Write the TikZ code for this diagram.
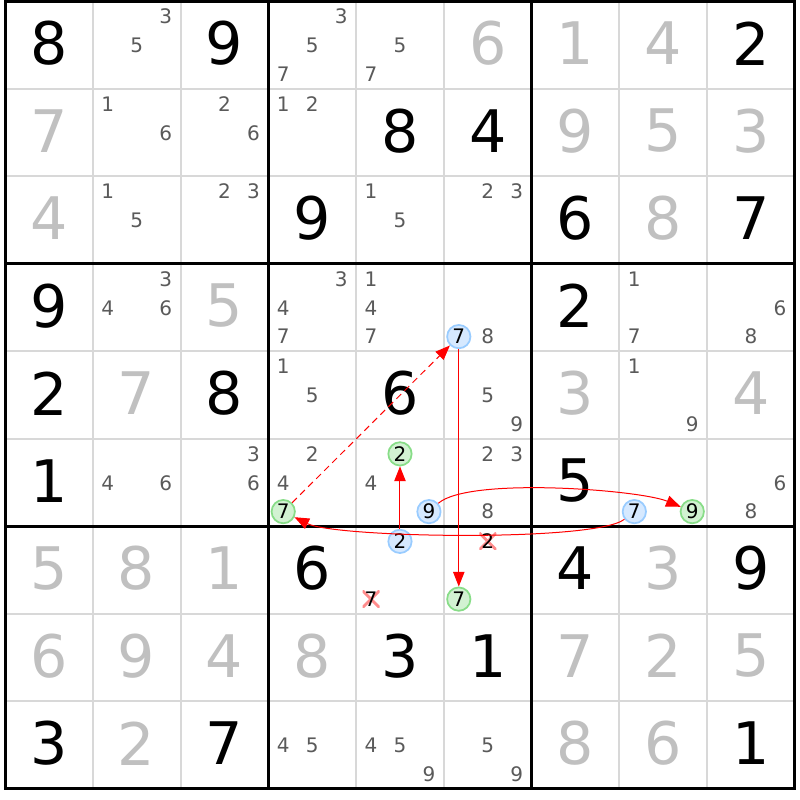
\documentclass[tikz,border=0pt]{standalone}
\usepackage{fontspec}
\setmainfont{DejaVu Sans}
\usetikzlibrary{arrows.meta}
\definecolor{solvedgray}{HTML}{C0C0C0}
\definecolor{pencilgray}{HTML}{5A5A5A}
\definecolor{thingray}{HTML}{D8D8D8}
\definecolor{blueline}{HTML}{99CCFF}
\definecolor{bluefill}{HTML}{D6E9FF}
\definecolor{greenline}{HTML}{88DD88}
\definecolor{greenfill}{HTML}{D2F2D2}
\tikzset{
  clue/.style={font=\fontsize{44}{44}\selectfont, inner sep=0pt},
  solved/.style={clue, text=solvedgray},
  pencil/.style={font=\fontsize{15}{16}\selectfont, text=pencilgray, inner sep=0pt},
  ring/.style={pencil, text=black, circle, minimum size=17.5pt, line width=1.3pt},
  bluecand/.style={ring, draw=blueline, fill=bluefill},
  greencand/.style={ring, draw=greenline, fill=greenfill},
  struck/.style={pencil, text=black, minimum size=12.75pt,
    path picture={\draw[red, opacity=0.45, line width=2.2pt]
      (path picture bounding box.north west) -- (path picture bounding box.south east)
      (path picture bounding box.north east) -- (path picture bounding box.south west);}},
  link/.style={red, line width=0.75pt, -{Triangle[length=11pt,width=8.5pt]}},
}
\begin{document}
\begin{tikzpicture}[x=65.83pt, y=-65.625pt]
\fill[white] (-0.057,-0.017) rectangle (9.057,9.126);
\useasboundingbox (-0.057,-0.017) rectangle (9.057,9.126);
\foreach \i in {1,2,4,5,7,8} {
  \draw[thingray, line width=1.5pt] (\i,0) -- (\i,9);
  \draw[thingray, line width=1.5pt] (0,\i) -- (9,\i);
}
\foreach \i in {0,3,6,9} {
  \draw[line width=2.25pt, line cap=rect] (\i,0) -- (\i,9);
  \draw[line width=2.25pt, line cap=rect] (0,\i) -- (9,\i);
}
\foreach \c/\r/\d in {1/1/8,3/1/9,9/1/2,5/2/8,6/2/4,4/3/9,7/3/6,9/3/7,1/4/9,7/4/2,1/5/2,3/5/8,5/5/6,1/6/1,7/6/5,4/7/6,7/7/4,9/7/9,5/8/3,6/8/1,1/9/3,3/9/7,9/9/1}
  \node[clue] (d\c\r) at (\c-0.5,\r-0.52) {\d};
\foreach \c/\r/\d in {6/1/6,7/1/1,8/1/4,1/2/7,7/2/9,8/2/5,9/2/3,1/3/4,8/3/8,3/4/5,2/5/7,7/5/3,9/5/4,1/7/5,2/7/8,3/7/1,8/7/3,1/8/6,2/8/9,3/8/4,4/8/8,7/8/7,8/8/2,9/8/5,2/9/2,7/9/8,8/9/6}
  \node[solved] (d\c\r) at (\c-0.5,\r-0.52) {\d};
\foreach \c/\r/\l in {2/1/{3,5},4/1/{3,5,7},5/1/{5,7},2/2/{1,6},3/2/{2,6},4/2/{1,2},2/3/{1,5},3/3/{2,3},5/3/{1,5},6/3/{2,3},2/4/{3,4,6},4/4/{3,4,7},5/4/{1,4,7},6/4/{8},8/4/{1,7},9/4/{6,8},4/5/{1,5},6/5/{5,9},8/5/{1,9},2/6/{4,6},3/6/{3,6},4/6/{2,4},5/6/{4},6/6/{2,3,8},9/6/{6,8},4/9/{4,5},5/9/{4,5,9},6/9/{5,9}}
  \foreach \d in \l {
    \pgfmathsetmacro\px{\c-0.83+0.33*mod(\d-1,3)}
    \pgfmathsetmacro\py{\r-0.83+0.33*div(\d-1,3)}
    \node[pencil] (p\c\r\d) at (\px,\py) {\d};
  }
\node[bluecand] (p647) at (5.17,3.83) {7};
\node[greencand] (p467) at (3.17,5.83) {7};
\node[greencand] (p562) at (4.5,5.17) {2};
\node[bluecand] (p569) at (4.83,5.83) {9};
\node[bluecand] (p867) at (7.17,5.83) {7};
\node[greencand] (p869) at (7.83,5.83) {9};
\node[bluecand] (p572) at (4.5,6.17) {2};
\node[struck] (p577) at (4.17,6.83) {7};
\node[struck] (p672) at (5.5,6.17) {2};
\node[greencand] (p677) at (5.17,6.83) {7};
\draw[link, dash pattern=on 5pt off 3.5pt] (p467) -- (p647);
\draw[link] (p647) -- (p677);
\draw[link] (p572) -- (p562);
\draw[link] (p569) .. controls +(0.45,-0.4) and +(-0.6,-0.25) .. (p869);
\draw[link] (p867) .. controls +(-0.45,0.35) and +(0.6,0.3) .. (p467);
\end{tikzpicture}
\end{document}
